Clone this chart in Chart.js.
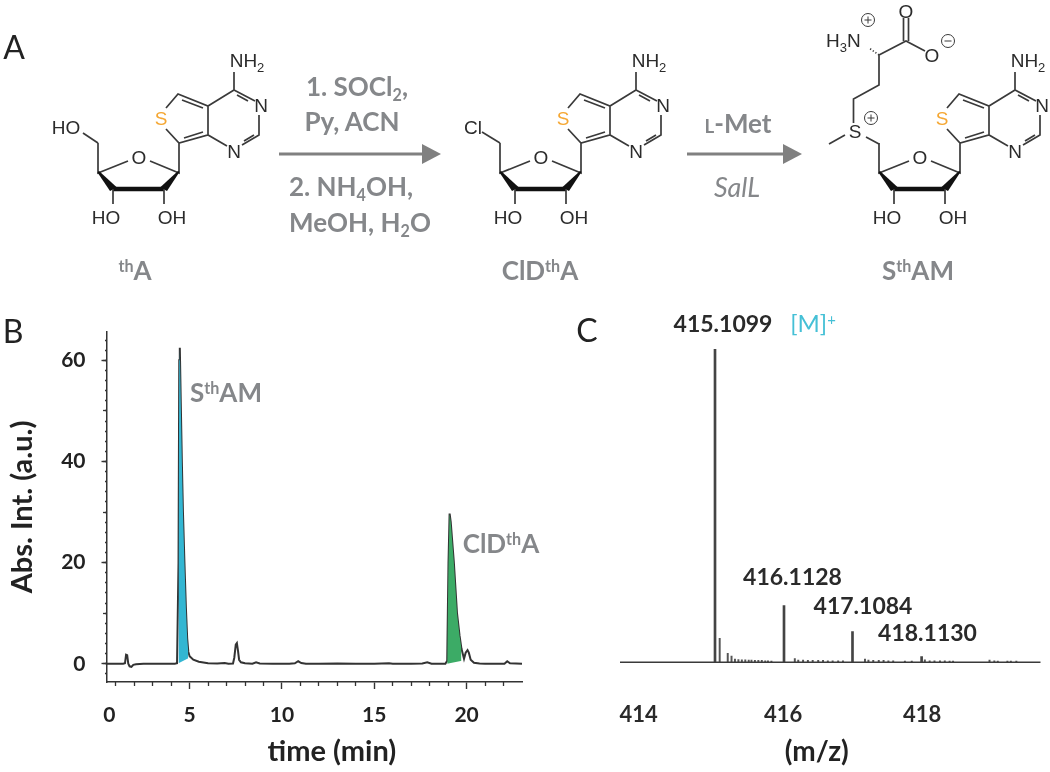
<!DOCTYPE html>
<html><head><meta charset="utf-8">
<script src="https://cdn.jsdelivr.net/npm/chart.js@4"></script>
<style>
html,body{margin:0;padding:0;background:#fff}
#page{position:relative;width:1050px;height:772px;overflow:hidden;filter:blur(.45px)}
canvas{position:absolute}
.t{position:absolute;transform:translate(-50%,-50%);white-space:nowrap;line-height:1;font-family:Lato,sans-serif;font-weight:700;color:#85878a;font-size:26px}
.t sup{font-size:.62em;vertical-align:.5em;line-height:0}
.t sub{font-size:.62em;vertical-align:-.3em;line-height:0}
.k{color:#2a2a2a;font-size:23px}
.p{color:#222;font-weight:400;font-size:32px}
svg{position:absolute;left:0;top:0}
svg text{font-family:"Liberation Sans",Arial,sans-serif;font-size:19px;fill:#2b2b2b}
svg .b{stroke:#3a3a3a;stroke-width:1.7;fill:none}
</style></head><body><div id="page">
<canvas id="hplc" width="540" height="462" style="left:0;top:310px;width:540px;height:462px"></canvas>
<canvas id="ms" width="480" height="462" style="left:570px;top:310px;width:480px;height:462px"></canvas>

<svg width="1050" height="310" viewBox="0 0 1050 310">
<defs><g id="core">
 <path class="b" d="M234 72V90L208 106 178 94 166 108M166 129L179 143 208 135 227 146M234 90L255 101M259 115V135L242 145M208 106V135M237 95L248 101M254 135L244 141M182 100L203 108M184 138L203 132M179 143V173L150 161M128 161L98 173V143"/>
 <path d="M97.5 172.5L110 191 117 187.5 99 171Z" fill="#111"/>
 <path d="M179.5 172L167 191 160 187.5 178 171Z" fill="#111"/>
 <path d="M113 189H164" stroke="#111" stroke-width="4.5"/>
 <path class="b" d="M113 189V204M164 189V204"/>
 <text x="247" y="67" text-anchor="middle">NH<tspan font-size="13" dy="5">2</tspan></text>
 <text x="261" y="112" text-anchor="middle">N</text>
 <text x="234" y="158" text-anchor="middle">N</text>
 <text x="161" y="125" text-anchor="middle" style="fill:#f5a733">S</text>
 <text x="139" y="164" text-anchor="middle">O</text>
 <text x="106" y="224" text-anchor="middle">HO</text>
 <text x="172" y="224" text-anchor="middle">OH</text>
</g></defs>
<use href="#core"/>
<path class="b" d="M98 143L83 133"/><text x="66" y="134" text-anchor="middle">HO</text>
<use href="#core" x="402"/>
<path class="b" d="M500 143L482 132"/><text x="473" y="134" text-anchor="middle">Cl</text>
<use href="#core" x="781"/>
<path class="b" d="M879 144L866 137M845 135L829 144M853.5 123V99L879 85V55L906 41 925 51M903.5 41V18M908.5 41V18"/>
<text x="855" y="138" text-anchor="middle">S</text>
<circle class="b" cx="871" cy="118" r="6.5" style="stroke-width:1"/><path class="b" style="stroke-width:1" d="M867.5 118h7M871 114.5v7"/>
<text x="906" y="18" text-anchor="middle">O</text>
<text x="932" y="62" text-anchor="middle">O</text>
<circle class="b" cx="948" cy="41" r="6.5" style="stroke-width:1"/><path class="b" style="stroke-width:1" d="M944.5 41h7"/>
<text x="826" y="47">H<tspan font-size="13" dy="5">3</tspan><tspan dy="-5">N</tspan></text>
<circle class="b" cx="868" cy="20" r="6.5" style="stroke-width:1"/><path class="b" style="stroke-width:1" d="M864.5 20h7M868 16.5v7"/>
<path class="b" stroke-dasharray="1.2 2" d="M879 55L869 48"/>
<path d="M279 154H424" stroke="#808080" stroke-width="3.2"/><path d="M422 144L441 154 422 164Z" fill="#808080"/>
<path d="M687 154H785" stroke="#808080" stroke-width="3.2"/><path d="M783 144L802 154 783 164Z" fill="#808080"/>
</svg>

<div class="t p" style="left:14px;top:47px">A</div>
<div class="t p" style="left:13px;top:331px">B</div>
<div class="t p" style="left:587px;top:330px">C</div>
<div class="t" style="left:357px;top:86px">1. SOCl<sub>2</sub>,</div>
<div class="t" style="left:352px;top:121px">Py, ACN</div>
<div class="t" style="left:351px;top:186px">2. NH<sub>4</sub>OH,</div>
<div class="t" style="left:360px;top:222px">MeOH, H<sub>2</sub>O</div>
<div class="t" style="left:738px;top:123px"><span style="font-size:.72em">L</span>-Met</div>
<div class="t" style="left:737px;top:186px;font-style:italic;font-weight:400;font-size:27px">SalL</div>
<div class="t" style="left:135px;top:270px"><sup>th</sup>A</div>
<div class="t" style="left:540px;top:270px">ClD<sup>th</sup>A</div>
<div class="t" style="left:918px;top:270px">S<sup>th</sup>AM</div>
<div class="t" style="left:226px;top:392px">S<sup>th</sup>AM</div>
<div class="t" style="left:501px;top:543px">ClD<sup>th</sup>A</div>
<div class="t k" style="left:723px;top:323px">415.1099</div>
<div class="t" style="left:813px;top:323px;color:#45c0d6;font-weight:400;font-size:24px">[M]<sup>+</sup></div>
<div class="t k" style="left:792.5px;top:575.5px">416.1128</div>
<div class="t k" style="left:863px;top:605px">417.1084</div>
<div class="t k" style="left:927.5px;top:632px">418.1130</div>
</div>
<script>
// Panel B: HPLC trace, time (min) and absorbance
const traceTime = [0.5,1.4,1.5,1.56,1.62,1.68,1.75,1.85,1.95,2.1,2.5,3.2,4.2,4.32,4.4,4.44,4.47,4.52,4.58,4.64,4.72,4.8,4.87,4.93,5,5.2,5.5,6,6.5,6.7,6.9,7.1,7.35,7.42,7.5,7.56,7.62,7.68,7.78,8,8.4,8.6,8.8,9.5,10.4,10.7,10.88,11.05,11.3,12,13,14,15,15.8,16,17,17.6,17.87,18.1,18.85,18.95,19.02,19.08,19.14,19.31,19.48,19.62,19.72,19.86,19.95,20.05,20.12,20.22,20.4,20.7,21,21.5,22.05,22.2,22.35,23];
const traceAbs  = [0,0,0.1,1.8,1.7,0,-0.5,-0.6,-0.2,-0.1,0,0,0,0.1,20,60,62.5,52,40,30,20,11,5,2.4,1.5,0.8,0.4,0.1,0.05,0.1,0.15,0,0.05,1.2,3.8,4.1,2.6,0.8,0.3,0.1,0,0.3,0.05,0,0,0.1,0.5,0.15,0,0,0.05,0,0,0.1,0,0,0.05,0.3,0,0,0.6,20,29.7,28,20,10,5.5,3,1,2.2,2.7,2.2,0.8,0.2,0.05,0,0,0,0.5,0.1,0];
const teal  = {from:4.35,to:4.93,endAbs:1.1};
const green = {from:18.92,to:19.78,endAbs:0.6};
const hplcTicksX = [0.65,5,10,15,20];
const hplcTicksY = [0,20,40,60];
const hplcMidY = [0,10,20,30,40,50,60];
const hplcFineY = [-2,0,2,4,6,8,10,12,14,16,18,20,22,24,26,28,30,32,34,36,38,40,42,44,46,48,50,52,54,56,58,60,62,64];
const hplcMinorX = [1,2,3,4,6,7,8,9,11,12,13,14,16,17,18,19,21,22];

// Panel C: mass spectrum, m/z and relative intensity
const mzMain = [415.1099,416.1128,417.1084,418.113];
const intMain = [100,18.1,9.8,1.8];
const mzSmall = [415.178,415.295,415.35,415.40,415.45,415.50,415.55,415.60,415.64,415.69,415.74,415.79,415.84,415.88,415.93,416.27,416.32,416.39,416.46,416.53,416.61,416.68,416.75,416.82,416.90,416.97,417.29,417.34,417.41,417.49,417.56,417.63,417.70,417.87,417.97,418.16,418.23,418.30,418.38,418.45,418.52,418.57,419.10,419.17,419.22,419.36,419.41,419.49];
const intSmall = [7.7,2.9,2.0,1.0,0.9,0.8,0.8,0.7,0.7,0.6,0.6,0.6,0.5,0.5,0.4,1.2,0.7,0.7,0.6,0.6,0.6,0.6,0.5,0.5,0.5,0.5,1.0,0.7,0.6,0.6,0.6,0.5,0.5,0.4,0.4,0.8,0.5,0.5,0.5,0.5,0.4,0.4,0.7,0.5,0.4,0.4,0.4,0.4];
const msTicksX = [414,416.1,418.12];
const msTicksLabels = ['414','416','418'];

const pairs=(xs,ys)=>xs.map((x,i)=>({x,y:ys[i]}));
const trace=pairs(traceTime,traceAbs);
const inkFont={family:'Lato',weight:'700',size:21};
const axisInk='#333';
const lock=(w,h)=>s=>{ if(w!=null) s.width=w; if(h!=null) s.height=h; s.paddingTop=0; s.paddingBottom=0; };
const shade=(r,c)=>{
  const top=trace.filter(p=>p.x>=r.from&&p.x<=r.to);
  return [
    {type:'line',data:top,borderWidth:0,pointRadius:0,fill:{target:'+1'},backgroundColor:c,tension:0},
    {type:'line',data:[{x:r.from,y:0},{x:r.to,y:r.endAbs}],borderWidth:0,pointRadius:0,fill:false,tension:0}
  ];
};
const minorAxis=(vals,len,pos)=>({
  type:'linear',position:pos,afterBuildTicks:s=>{s.ticks=vals.map(value=>({value}));},
  ticks:{display:false},border:{display:false},
  grid:{drawOnChartArea:false,drawTicks:true,tickLength:len,tickColor:axisInk,tickWidth:1.3}
});
new Chart(document.getElementById('hplc'),{
  type:'line',
  data:{datasets:[...shade(teal,'#33b6d2'),...shade(green,'#3cab66'),
    {type:'line',label:'Abs',data:trace,borderColor:'#333',borderWidth:2,pointRadius:0,tension:0,fill:false}]},
  options:{responsive:false,animation:false,
    layout:{padding:{left:0,top:22,right:18,bottom:0}},
    plugins:{legend:{display:false},tooltip:{enabled:false}},
    scales:{
      x:{type:'linear',min:0.5,max:23,position:'bottom',afterFit:lock(null,90),
        afterBuildTicks:s=>{s.ticks=hplcTicksX.map(value=>({value}));},
        border:{display:true,color:axisInk,width:1.5},
        grid:{drawOnChartArea:false,tickLength:7,tickWidth:1.4,tickColor:c=>c.tick&&c.tick.value<1?'transparent':axisInk},
        ticks:{font:inkFont,color:'#222',padding:14,maxRotation:0,autoSkip:false,callback:v=>v<1?'0':String(v)},
        title:{display:true,text:'\u00a0'.repeat(5)+'time (min)',font:{family:'Lato',weight:'700',size:29},color:'#222',padding:{top:0,bottom:3}}},
      xm:{...minorAxis(hplcMinorX,4,{y:-3.6}),axis:'x',min:0.5,max:23},
      y:{type:'linear',min:-3.6,max:65.6,position:'left',afterFit:lock(106.5,null),
        afterBuildTicks:s=>{s.ticks=hplcTicksY.map(value=>({value}));},
        border:{display:true,color:axisInk,width:1.5},
        grid:{drawOnChartArea:false,tickLength:5,tickWidth:1.4,tickColor:axisInk},
        ticks:{font:inkFont,color:'#222',padding:16,callback:v=>String(v)},
        title:{display:true,text:'Abs. Int. (a.u.)',font:{family:'Lato',weight:'700',size:29},color:'#222',padding:{top:5,bottom:0}}},
      ym:{...minorAxis(hplcMidY,4,{x:0.5}),axis:'y',min:-3.6,max:65.6},
      yf:{...minorAxis(hplcFineY,2,{x:0.5}),axis:'y',min:-3.6,max:65.6}
    }}
});
new Chart(document.getElementById('ms'),{
  type:'bar',
  data:{datasets:[
    {type:'line',data:[{x:413.729,y:0},{x:419.844,y:0}],borderColor:'#3a3a3a',borderWidth:1.5,pointRadius:0},
    {type:'bar',data:pairs(mzMain,intMain),backgroundColor:'#444',barThickness:2,grouped:false},
    {type:'bar',data:pairs(mzSmall,intSmall),backgroundColor:'#555',barThickness:1.3,grouped:false}
  ]},
  options:{responsive:false,animation:false,
    layout:{padding:{left:50,top:30,right:9.3,bottom:0}},
    plugins:{legend:{display:false},tooltip:{enabled:false}},
    scales:{
      x:{type:'linear',min:413.729,max:419.844,offset:false,position:'bottom',afterFit:lock(null,106.57),
        afterBuildTicks:s=>{s.ticks=msTicksX.map(value=>({value}));},
        border:{display:false},grid:{display:false,drawTicks:false,tickLength:0},
        ticks:{font:{family:'Lato',weight:'700',size:22},color:'#2a2a2a',padding:36,maxRotation:0,autoSkip:false,
          callback:(v,i)=>msTicksLabels[i]},
        title:{display:true,text:'(m/z)'+'\u00a0'.repeat(4),font:{family:'Lato',weight:'700',size:28},color:'#222',padding:{top:0,bottom:3}}},
      y:{type:'linear',min:-1,max:103,display:false}
    }}
});
</script></body></html>
